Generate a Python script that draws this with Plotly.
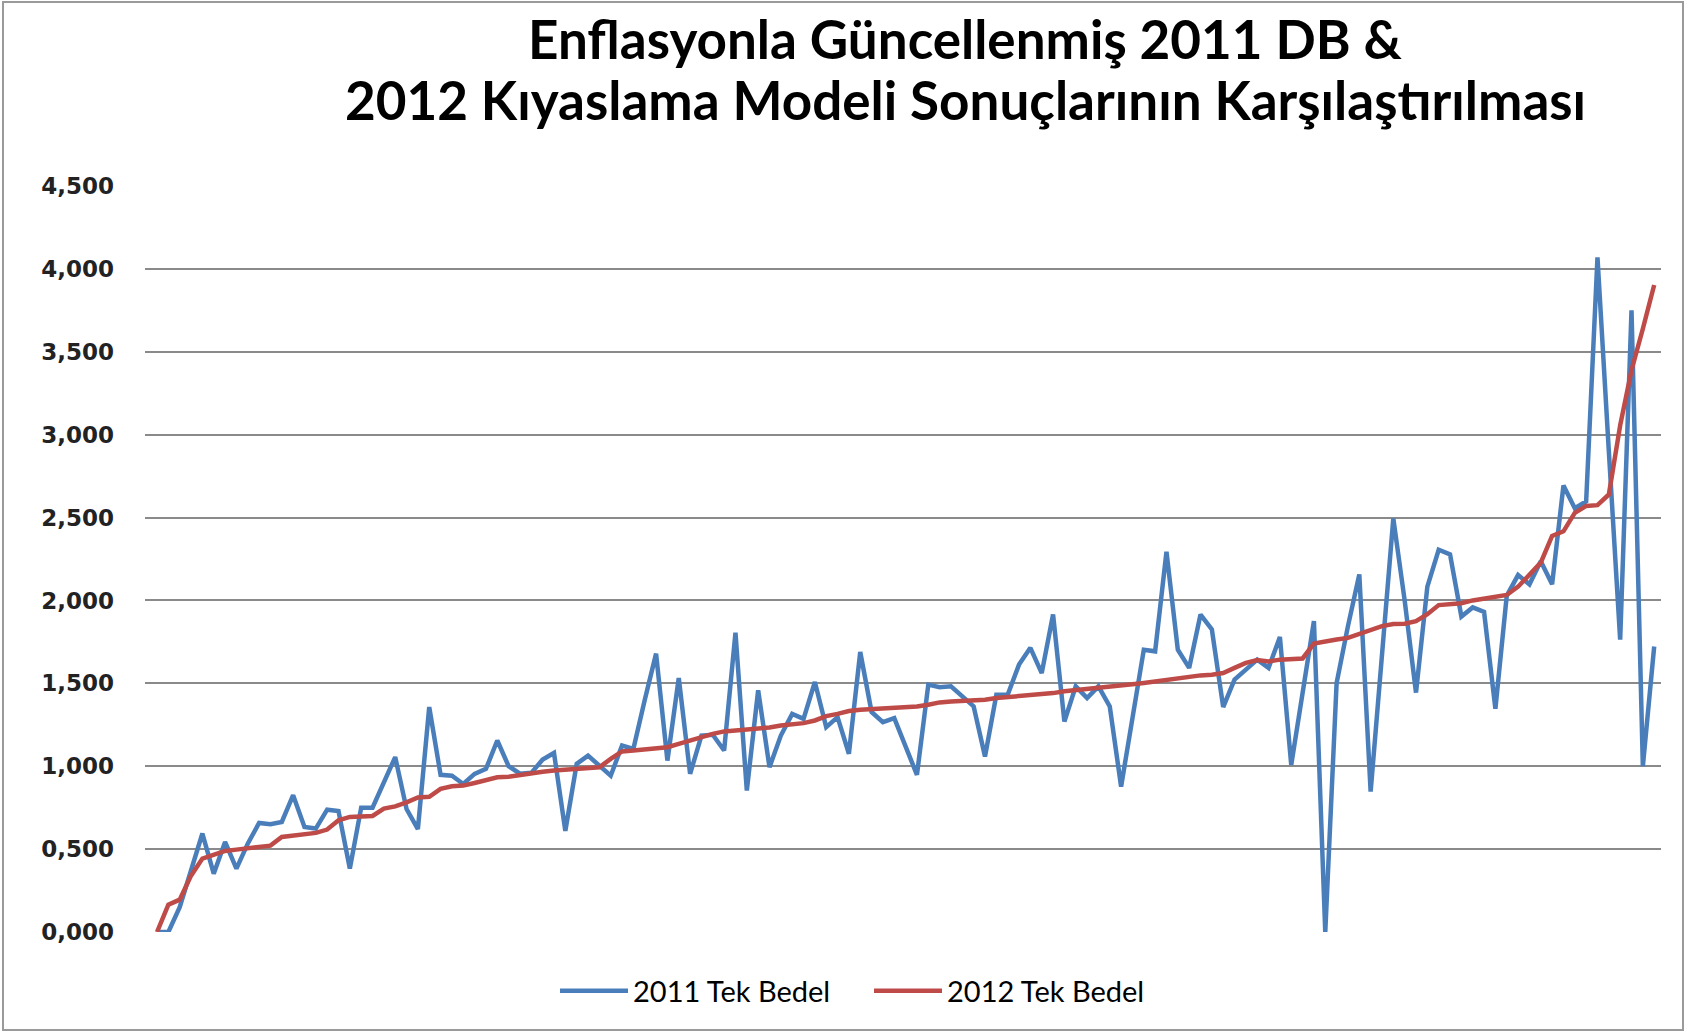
import plotly.graph_objects as go

# ---- data ----
series_2011_name = "2011 Tek Bedel"
series_2012_name = "2012 Tek Bedel"

values_2011 = [
    0, 0, 150, 370, 594, 352, 543, 382, 533, 658,
    650, 664, 825, 634, 624, 738, 730, 382, 750, 750,
    899, 1055, 742, 621, 1357, 948, 943, 893, 954, 984,
    1155, 1000, 955, 960, 1040, 1080, 610, 1014, 1064, 1004,
    943, 1125, 1105, 1400, 1679, 1034, 1532, 954, 1185, 1190,
    1095, 1806, 853, 1458, 994, 1185, 1316, 1286, 1508, 1236,
    1296, 1075, 1689, 1327, 1266, 1290, 1119, 948, 1492, 1476,
    1482, 1421, 1361, 1058, 1431, 1431, 1613, 1714, 1562, 1915,
    1270, 1482, 1411, 1482, 1361, 877, 1290, 1703, 1693, 2294,
    1703, 1593, 1915, 1825, 1357, 1522, 1583, 1643, 1593, 1780,
    1008, 1441, 1875, 0, 1502, 1845, 2157, 847, 1670, 2494,
    2000, 1444, 2083, 2306, 2278, 1903, 1958, 1931, 1347, 2028,
    2153, 2097, 2236, 2097, 2694, 2556, 2597, 4070, 2900, 1764,
    3750, 1000, 1722,
]

values_2012 = [
    0, 165, 195, 340, 443, 469, 489, 497, 503, 509,
    521, 573, 583, 594, 598, 618, 674, 694, 698, 700,
    744, 758, 782, 812, 816, 863, 879, 883, 899, 913,
    933, 937, 948, 954, 967, 974, 980, 984, 988, 994,
    1044, 1089, 1095, 1100, 1105, 1115, 1135, 1155, 1181, 1195,
    1210, 1216, 1222, 1226, 1234, 1246, 1252, 1260, 1276, 1302,
    1316, 1333, 1340, 1343, 1345, 1348, 1352, 1360, 1371, 1385,
    1391, 1393, 1396, 1401, 1411, 1417, 1421, 1429, 1435, 1441,
    1452, 1458, 1466, 1472, 1478, 1486, 1494, 1502, 1512, 1522,
    1530, 1542, 1548, 1552, 1562, 1593, 1623, 1640, 1632, 1643,
    1647, 1650, 1740, 1754, 1764, 1774, 1800, 1824, 1845, 1858,
    1860, 1875, 1917, 1972, 1978, 1983, 2000, 2011, 2028, 2033,
    2083, 2153, 2228, 2389, 2417, 2528, 2570, 2575, 2639, 3056,
    3389, 3639, 3903,
]

categories = list(range(1, len(values_2011) + 1))

y_tick_values = [0, 500, 1000, 1500, 2000, 2500, 3000, 3500, 4000, 4500]
y_tick_labels = ["0,000", "0,500", "1,000", "1,500", "2,000",
                 "2,500", "3,000", "3,500", "4,000", "4,500"]

title_lines = ["Enflasyonla Güncellenmiş 2011 DB &",
               "2012 Kıyaslama Modeli Sonuçlarının Karşılaştırılması"]

# ---- figure ----
BLUE = "#4A7EBB"
RED = "#BE4B48"

fig = go.Figure()
fig.add_trace(go.Scatter(x=categories, y=values_2011, mode="lines",
                         name=series_2011_name,
                         line=dict(color=BLUE, width=4.5)))
fig.add_trace(go.Scatter(x=categories, y=values_2012, mode="lines",
                         name=series_2012_name,
                         line=dict(color=RED, width=4.5)))

W, H = 1686, 1033
ML, MR, MT, MB = 145, 25, 186, 101
plot_w = W - ML - MR
plot_h = H - MT - MB

def px_to_paper_x(px):
    return (px - ML) / plot_w

def px_to_paper_y(py):
    return (H - MB - py) / plot_h

n = len(categories)
fig.update_layout(
    width=W, height=H,
    margin=dict(l=ML, r=MR, t=MT, b=MB),
    paper_bgcolor="white",
    plot_bgcolor="white",
    xaxis=dict(
        range=[-0.06, n + 0.6],
        showgrid=False, zeroline=False,
        showticklabels=False, ticks="",
        showline=False,
    ),
    yaxis=dict(
        range=[0, 4500],
        tickvals=y_tick_values, ticktext=y_tick_labels,
        showgrid=True, gridcolor="#8a8a8a", gridwidth=1.5,
        zeroline=False, showline=False, ticks="",
        ticklabelstandoff=30,
        tickfont=dict(family="DejaVu Sans", size=23, color="#222222", weight="bold"),
    ),
    showlegend=True,
    legend=dict(
        orientation="h",
        x=px_to_paper_x(869), xanchor="center",
        y=px_to_paper_y(991), yanchor="middle",
        font=dict(family="Lato", size=29, color="black"),
        itemwidth=68,
        entrywidth=231, entrywidthmode="pixels",
        traceorder="normal",
        bgcolor="rgba(0,0,0,0)",
    ),
    annotations=[
        dict(text=title_lines[0], xref="paper", yref="paper",
             x=px_to_paper_x(965), y=px_to_paper_y(39),
             xanchor="center", yanchor="middle", showarrow=False,
             font=dict(family="Lato", size=53, color="black", weight="bold")),
        dict(text=title_lines[1], xref="paper", yref="paper",
             x=px_to_paper_x(965), y=px_to_paper_y(100),
             xanchor="center", yanchor="middle", showarrow=False,
             font=dict(family="Lato", size=53, color="black", weight="bold")),
    ],
    shapes=[
        dict(type="rect", xref="paper", yref="paper",
             x0=px_to_paper_x(3), x1=px_to_paper_x(W - 3),
             y0=px_to_paper_y(H - 3), y1=px_to_paper_y(2),
             line=dict(color="#9a9a9a", width=2), fillcolor="rgba(0,0,0,0)",
             layer="below"),
    ],
)

fig.write_html("out.html",
               config={"displayModeBar": False},
               post_script="document.body.style.margin='0';document.body.style.overflow='hidden';")
